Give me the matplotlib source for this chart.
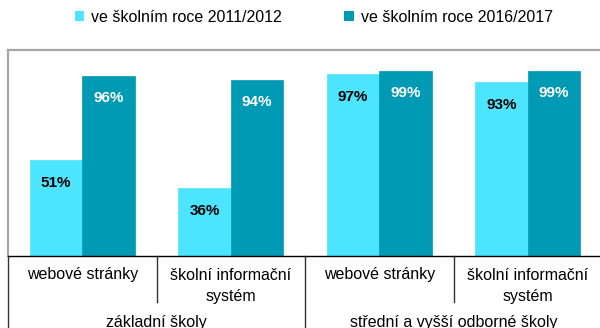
import matplotlib
matplotlib.use("Agg")
import matplotlib.pyplot as plt
from matplotlib.patches import Patch
from matplotlib.transforms import blended_transform_factory
import numpy as np

plt.rcParams['font.family'] = ['Liberation Sans', 'DejaVu Sans']

# Data
categories = ["webové stránky", "školní informační\nsystém",
              "webové stránky", "školní informační\nsystém"]
groups = ["základní školy", "střední a vyšší odborné školy"]
series_names = ["ve školním roce 2011/2012", "ve školním roce 2016/2017"]
values_2011 = [51, 36, 97, 93]
values_2016 = [96, 94, 99, 99]

light = "#4CE4FE"
dark = "#009AB4"

W, H = 600, 328
fig = plt.figure(figsize=(W / 100, H / 100), dpi=100)

ax_left, ax_right = 8, 602
ax_top, ax_bottom = 50, 255.5
ax = fig.add_axes([ax_left / W, (H - ax_bottom) / H,
                   (ax_right - ax_left) / W, (ax_bottom - ax_top) / H])

x = np.arange(len(categories))
bw = 0.354
b1 = ax.bar(x - bw / 2, values_2011, bw, color=light, edgecolor=light, linewidth=0.5)
b2 = ax.bar(x + bw / 2, values_2016, bw, color=dark, edgecolor=dark, linewidth=0.5)

for rect, v in zip(b1, values_2011):
    ax.annotate(f"{v}%", (rect.get_x() + rect.get_width() / 2, v),
                xytext=(0, -23), textcoords='offset pixels',
                ha='center', va='center', fontsize=11, fontweight='bold', color='black')
for rect, v in zip(b2, values_2016):
    ax.annotate(f"{v}%", (rect.get_x() + rect.get_width() / 2, v),
                xytext=(0, -22), textcoords='offset pixels',
                ha='center', va='center', fontsize=11, fontweight='bold', color='white')

ax.set_xlim(-0.5, len(categories) - 0.5)
ax.set_ylim(0, 110)
ax.set_xticks([])
ax.set_yticks([])
for s in ("top", "left"):
    ax.spines[s].set_color("#A6A6A6")
    ax.spines[s].set_linewidth(1.6)
ax.spines["right"].set_visible(False)
ax.spines["bottom"].set_color("black")
ax.spines["bottom"].set_linewidth(1.0)

# Category table below the axis
axh = ax_bottom - ax_top
tr = blended_transform_factory(ax.transData, ax.transAxes)

def frac(py):
    return (ax_bottom - py) / axh

for i, lab in enumerate(categories):
    for j, line in enumerate(lab.split("\n")):
        ax.text(i, frac(279.5 + 22 * j), line, transform=tr, ha='center',
                va='baseline', fontsize=11.5, color='black', clip_on=False)

for k, g in enumerate(groups):
    ax.text(2 * k + 0.5, frac(327.5), g, transform=tr, ha='center',
            va='baseline', fontsize=11.5, color='black', clip_on=False)

for xs in (0.5, 2.5):
    ax.plot([xs, xs], [0, frac(302)], transform=tr, color='#333333',
            lw=1.0, clip_on=False)
ax.plot([1.5, 1.5], [0, frac(340)], transform=tr, color='#333333',
        lw=1.0, clip_on=False)
ax.plot([-0.5, -0.5], [0, frac(340)], transform=tr, color='#333333',
        lw=1.0, clip_on=False)

handles = [Patch(facecolor=light, edgecolor='none'),
           Patch(facecolor=dark, edgecolor='none')]
fig.legend(handles, series_names, loc='center left',
           bbox_to_anchor=(74.5 / W, 1 - 17 / H), ncol=2, frameon=False,
           fontsize=11.5, handlelength=0.6, handleheight=0.6,
           handletextpad=0.45, columnspacing=3.9, borderpad=0,
           borderaxespad=0)

fig.savefig("out.png", dpi=100)
